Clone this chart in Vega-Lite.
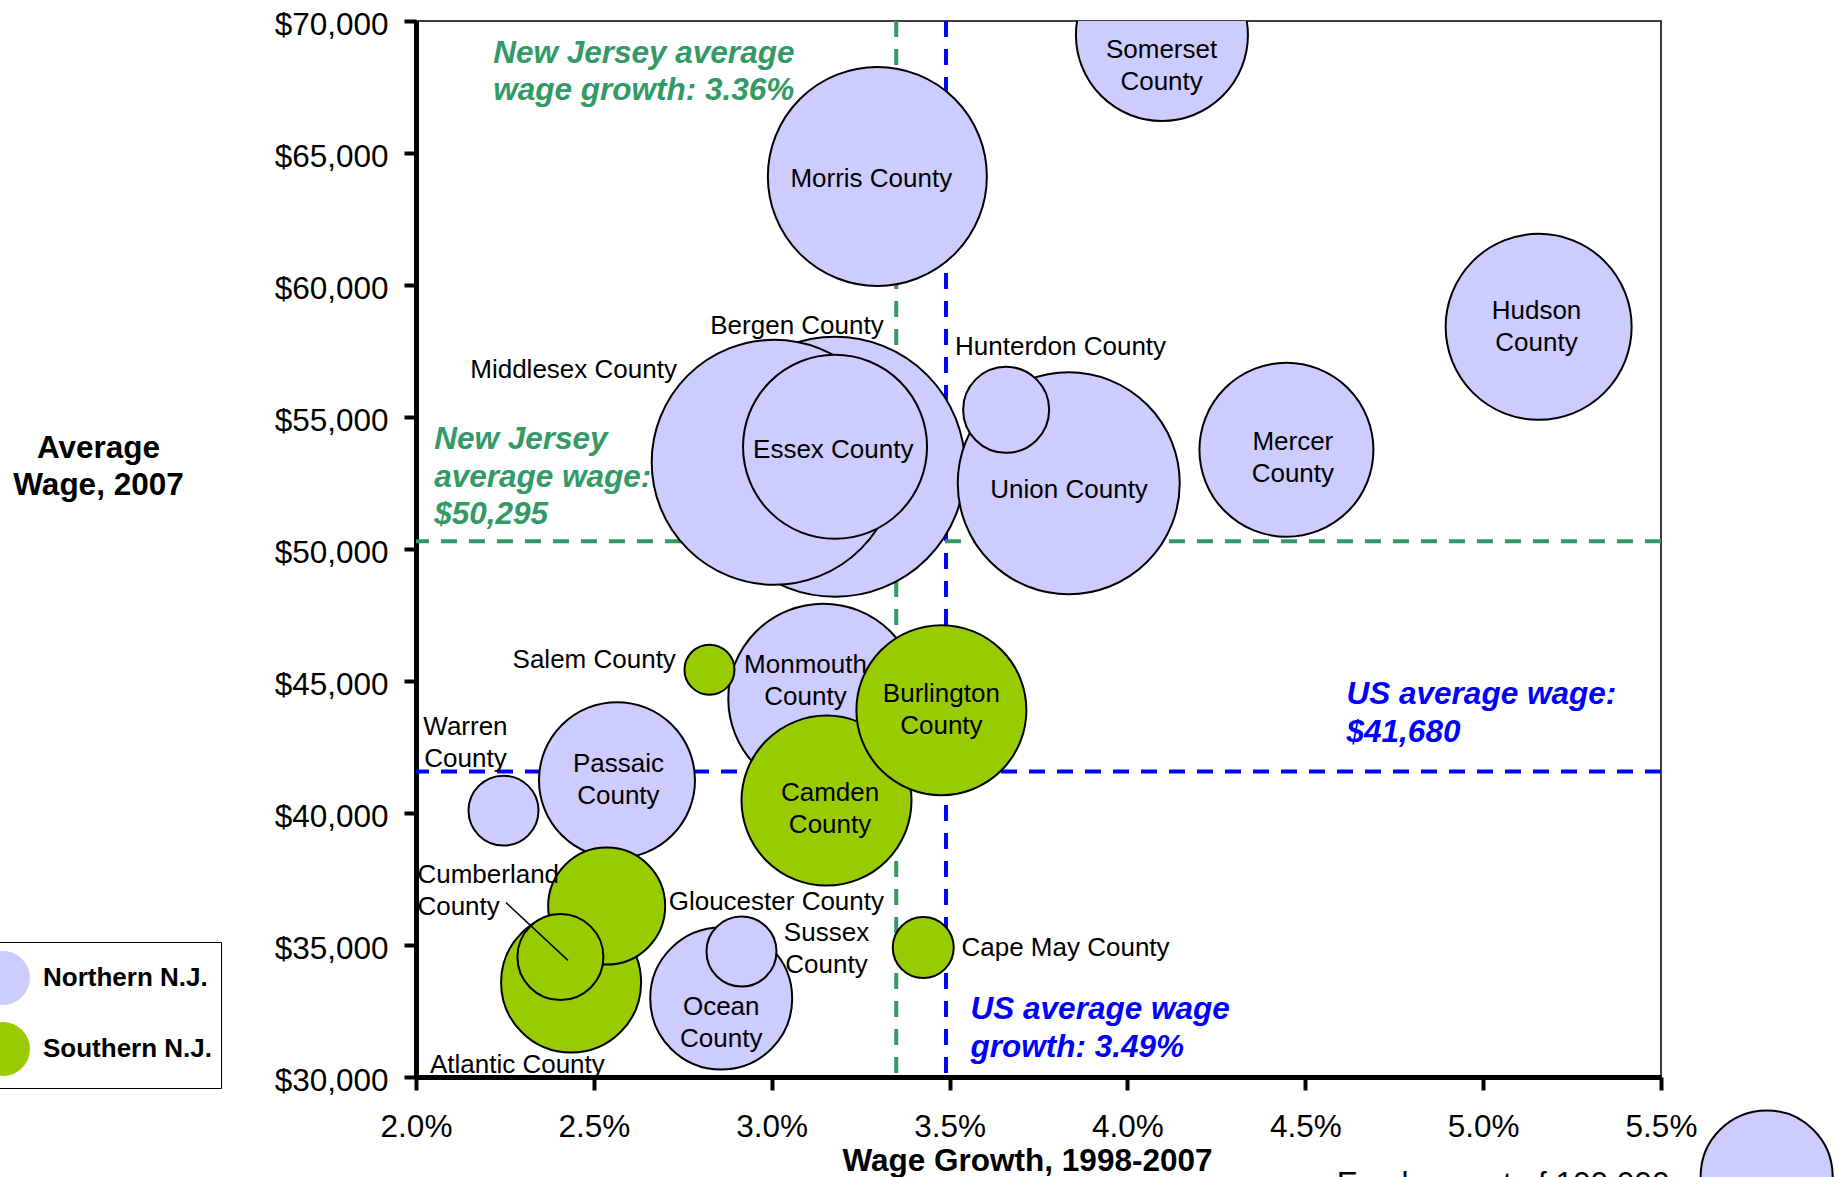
{
  "$schema": "https://vega.github.io/schema/vega-lite/v6.json",
  "width": 1245,
  "height": 1056,
  "autosize": {"type": "none"},
  "padding": {"left": 416, "top": 21, "right": 174, "bottom": 100},
  "background": "white",
  "config": {
    "font": "Liberation Sans",
    "view": {"stroke": "black", "strokeWidth": 1.5},
    "axis": {
      "grid": false,
      "domainColor": "black",
      "domainWidth": 5,
      "tickColor": "black",
      "tickWidth": 4,
      "labelColor": "black",
      "labelFont": "Liberation Sans",
      "labelFontSize": 31.5,
      "titleFont": "Liberation Sans",
      "titleFontSize": 31.5,
      "titleFontWeight": "bold",
      "titleColor": "black",
      "zindex": 1,
      "labelFlush": false,
      "labelOverlap": false
    }
  },
  "datasets": {
    "refs": [
      {"series": "New Jersey", "growth": 3.35, "wage": 50295},
      {"series": "US", "growth": 3.49, "wage": 41575}
    ],
    "counties": [
      {"county": "Bergen County", "region": "Northern N.J.", "growth": 3.178, "wage": 53114, "employment": 388000, "label": "Bergen County", "labelGrowth": 3.071, "labelWage": 58127},
      {"county": "Middlesex County", "region": "Northern N.J.", "growth": 3.007, "wage": 53285, "employment": 344500, "label": "Middlesex County", "labelGrowth": 2.443, "labelWage": 56491},
      {"county": "Essex County", "region": "Northern N.J.", "growth": 3.178, "wage": 53871, "employment": 194300, "label": "Essex County", "labelGrowth": 3.173, "labelWage": 53432},
      {"county": "Union County", "region": "Northern N.J.", "growth": 3.835, "wage": 52489, "employment": 282850, "label": "Union County", "labelGrowth": 3.836, "labelWage": 51929},
      {"county": "Hunterdon County", "region": "Northern N.J.", "growth": 3.659, "wage": 55272, "employment": 42450, "label": "Hunterdon County", "labelGrowth": 3.812, "labelWage": 57355},
      {"county": "Morris County", "region": "Northern N.J.", "growth": 3.297, "wage": 64113, "employment": 275250, "label": "Morris County", "labelGrowth": 3.28, "labelWage": 63704},
      {"county": "Somerset County", "region": "Northern N.J.", "growth": 4.097, "wage": 69470, "employment": 169790, "label": "Somerset\nCounty", "labelGrowth": 4.096, "labelWage": 68603},
      {"county": "Mercer County", "region": "Northern N.J.", "growth": 4.447, "wage": 53758, "employment": 173760, "label": "Mercer\nCounty", "labelGrowth": 4.465, "labelWage": 53765},
      {"county": "Hudson County", "region": "Northern N.J.", "growth": 5.156, "wage": 58415, "employment": 198550, "label": "Hudson\nCounty", "labelGrowth": 5.15, "labelWage": 58725},
      {"county": "Monmouth County", "region": "Northern N.J.", "growth": 3.145, "wage": 44330, "employment": 207190, "label": "Monmouth\nCounty", "labelGrowth": 3.095, "labelWage": 45315},
      {"county": "Warren County", "region": "Northern N.J.", "growth": 2.246, "wage": 40090, "employment": 28120, "label": "Warren\nCounty", "labelGrowth": 2.139, "labelWage": 42967},
      {"county": "Passaic County", "region": "Northern N.J.", "growth": 2.565, "wage": 41245, "employment": 139670, "label": "Passaic\nCounty", "labelGrowth": 2.569, "labelWage": 41559},
      {"county": "Ocean County", "region": "Northern N.J.", "growth": 2.858, "wage": 32972, "employment": 115730, "label": "Ocean\nCounty", "labelGrowth": 2.858, "labelWage": 32366},
      {"county": "Sussex County", "region": "Northern N.J.", "growth": 2.915, "wage": 34752, "employment": 28120, "label": "Sussex\nCounty", "labelGrowth": 3.154, "labelWage": 35149},
      {"county": "Camden County", "region": "Southern N.J.", "growth": 3.154, "wage": 40469, "employment": 165860, "label": "Camden\nCounty", "labelGrowth": 3.164, "labelWage": 40442},
      {"county": "Burlington County", "region": "Southern N.J.", "growth": 3.477, "wage": 43895, "employment": 165860, "label": "Burlington\nCounty", "labelGrowth": 3.477, "labelWage": 44205},
      {"county": "Salem County", "region": "Southern N.J.", "growth": 2.825, "wage": 45428, "employment": 14350, "label": "Salem County", "labelGrowth": 2.501, "labelWage": 45474},
      {"county": "Atlantic County", "region": "Southern N.J.", "growth": 2.436, "wage": 33578, "employment": 112490, "label": "Atlantic County", "labelGrowth": 2.285, "labelWage": 30155},
      {"county": "Gloucester County", "region": "Southern N.J.", "growth": 2.536, "wage": 36474, "employment": 78560, "label": "Gloucester County", "labelGrowth": 3.013, "labelWage": 36315},
      {"county": "Cumberland County", "region": "Southern N.J.", "growth": 2.406, "wage": 34543, "employment": 42450, "label": "Cumberland\nCounty", "labelGrowth": 2.004, "labelWage": 37364},
      {"county": "Cape May County", "region": "Southern N.J.", "growth": 3.426, "wage": 34903, "employment": 21360, "label": "Cape May County", "labelGrowth": 3.826, "labelWage": 34581}
    ],
    "leaders": [
      {"county": "Cumberland County", "fromGrowth": 2.2526, "fromWage": 36611, "toGrowth": 2.4272, "toWage": 34418}
    ],
    "notes": [
      {"series": "New Jersey", "note": "New Jersey average\nwage growth: 3.36%", "noteGrowth": 2.217, "noteWage": 68410},
      {"series": "New Jersey", "note": "New Jersey\naverage wage:\n$50,295", "noteGrowth": 2.051, "noteWage": 53784},
      {"series": "US", "note": "US average wage:\n$41,680", "noteGrowth": 4.616, "noteWage": 44111},
      {"series": "US", "note": "US average wage\ngrowth: 3.49%", "noteGrowth": 3.559, "noteWage": 32181}
    ],
    "sizeKey": [
      {"note": "Employment of 100,000", "growth": 5.797, "wage": 26233, "employment": 100000, "textGrowth": 5.056, "textWage": 25566}
    ]
  },
  "layer": [
    {
      "data": {"name": "refs"},
      "mark": {"type": "rule", "strokeWidth": 4, "strokeDash": [16, 12]},
      "encoding": {
        "x": {
          "field": "growth", "type": "quantitative",
          "scale": {"domain": [2, 5.5], "nice": false, "zero": false},
          "axis": {
            "title": "Wage Growth, 1998-2007",
            "values": [2, 2.5, 3, 3.5, 4, 4.5, 5, 5.5],
            "labelExpr": "format(datum.value, '.1f') + '%'",
            "tickSize": 13,
            "labelPadding": 21,
            "titleX": 611,
            "titleY": 93,
            "titleAlign": "center",
            "titleBaseline": "alphabetic"
          }
        },
        "stroke": {"field": "series", "type": "nominal", "scale": {"domain": ["New Jersey", "US"], "range": ["#339966", "#0000FF"]}, "legend": null}
      }
    },
    {
      "data": {"name": "refs"},
      "mark": {"type": "rule", "strokeWidth": 4, "strokeDash": [16, 12]},
      "encoding": {
        "y": {
          "field": "wage", "type": "quantitative",
          "scale": {"domain": [30000, 70000], "nice": false, "zero": false},
          "axis": {
            "title": ["Average", "Wage, 2007"],
            "values": [30000, 35000, 40000, 45000, 50000, 55000, 60000, 65000, 70000],
            "format": "$,.0f",
            "tickSize": 12,
            "labelPadding": 16,
            "labelOffset": 4,
            "titleAngle": 0,
            "titleX": -318,
            "titleY": 436,
            "titleAlign": "center",
            "titleBaseline": "alphabetic",
            "titleLineHeight": 37
          }
        },
        "stroke": {"field": "series", "type": "nominal", "scale": {"domain": ["New Jersey", "US"], "range": ["#339966", "#0000FF"]}, "legend": null}
      }
    },
    {
      "data": {"name": "counties"},
      "mark": {"type": "circle", "clip": true, "stroke": "black", "strokeWidth": 2, "opacity": 1, "fillOpacity": 1},
      "encoding": {
        "x": {"field": "growth", "type": "quantitative", "scale": {"domain": [2, 5.5], "nice": false, "zero": false}},
        "y": {"field": "wage", "type": "quantitative", "scale": {"domain": [30000, 70000], "nice": false, "zero": false}},
        "size": {"field": "employment", "type": "quantitative", "scale": {"type": "linear", "domain": [0, 500000], "range": [0, 87120]}, "legend": null},
        "fill": {
          "field": "region", "type": "nominal",
          "scale": {"domain": ["Northern N.J.", "Southern N.J."], "range": ["#CCCCFF", "#99CC00"]},
          "legend": {
            "title": null,
            "orient": "none",
            "legendX": -449,
            "legendY": 921,
            "symbolType": "circle",
            "symbolSize": 2916,
            "symbolStrokeColor": "black",
            "symbolStrokeWidth": 2,
            "symbolOpacity": 1,
            "symbolFillColor": "#CCCCFF",
            "labelFont": "Liberation Sans",
            "labelFontWeight": "bold",
            "labelFontSize": 26,
            "labelColor": "black",
            "labelOffset": 12,
            "labelLimit": 400,
            "padding": 8,
            "rowPadding": 9,
            "strokeColor": "black",
            "fillColor": "white",
            "encode": {
              "symbols": {"update": {"fill": {"signal": "datum.value === 'Southern N.J.' ? '#92D050' : '#CCCCFF'"}}}
            }
          }
        }
      }
    },
    {
      "data": {"name": "sizeKey"},
      "mark": {"type": "circle", "clip": false, "fill": "#CCCCFF", "stroke": "black", "strokeWidth": 2, "opacity": 1},
      "encoding": {
        "x": {"field": "growth", "type": "quantitative", "scale": {"domain": [2, 5.5], "nice": false, "zero": false}},
        "y": {"field": "wage", "type": "quantitative", "scale": {"domain": [30000, 70000], "nice": false, "zero": false}},
        "size": {"field": "employment", "type": "quantitative", "scale": {"type": "linear", "domain": [0, 500000], "range": [0, 87120]}, "legend": null}
      }
    },
    {
      "data": {"name": "sizeKey"},
      "mark": {"type": "text", "align": "center", "baseline": "alphabetic", "fontSize": 31.5, "font": "Liberation Sans", "color": "black"},
      "encoding": {
        "x": {"field": "textGrowth", "type": "quantitative", "scale": {"domain": [2, 5.5], "nice": false, "zero": false}},
        "y": {"field": "textWage", "type": "quantitative", "scale": {"domain": [30000, 70000], "nice": false, "zero": false}},
        "text": {"field": "note"}
      }
    },
    {
      "data": {"name": "counties"},
      "transform": [{"filter": "datum.county !== 'Cumberland County'"}],
      "mark": {"type": "text", "align": "center", "baseline": "alphabetic", "fontSize": 26, "font": "Liberation Sans", "lineBreak": "\n", "lineHeight": 32, "color": "black"},
      "encoding": {
        "x": {"field": "labelGrowth", "type": "quantitative", "scale": {"domain": [2, 5.5], "nice": false, "zero": false}},
        "y": {"field": "labelWage", "type": "quantitative", "scale": {"domain": [30000, 70000], "nice": false, "zero": false}},
        "text": {"field": "label"}
      }
    },
    {
      "data": {"name": "counties"},
      "transform": [{"filter": "datum.county === 'Cumberland County'"}],
      "mark": {"type": "text", "align": "left", "baseline": "alphabetic", "fontSize": 26, "font": "Liberation Sans", "lineBreak": "\n", "lineHeight": 32, "color": "black"},
      "encoding": {
        "x": {"field": "labelGrowth", "type": "quantitative", "scale": {"domain": [2, 5.5], "nice": false, "zero": false}},
        "y": {"field": "labelWage", "type": "quantitative", "scale": {"domain": [30000, 70000], "nice": false, "zero": false}},
        "text": {"field": "label"}
      }
    },
    {
      "data": {"name": "leaders"},
      "mark": {"type": "rule", "color": "black", "strokeWidth": 1.5},
      "encoding": {
        "x": {"field": "fromGrowth", "type": "quantitative", "scale": {"domain": [2, 5.5], "nice": false, "zero": false}},
        "y": {"field": "fromWage", "type": "quantitative", "scale": {"domain": [30000, 70000], "nice": false, "zero": false}},
        "x2": {"field": "toGrowth"},
        "y2": {"field": "toWage"}
      }
    },
    {
      "data": {"name": "notes"},
      "mark": {"type": "text", "align": "left", "baseline": "alphabetic", "fontSize": 31.5, "font": "Liberation Sans", "fontWeight": "bold", "fontStyle": "italic", "lineBreak": "\n", "lineHeight": 37.5},
      "encoding": {
        "x": {"field": "noteGrowth", "type": "quantitative", "scale": {"domain": [2, 5.5], "nice": false, "zero": false}},
        "y": {"field": "noteWage", "type": "quantitative", "scale": {"domain": [30000, 70000], "nice": false, "zero": false}},
        "text": {"field": "note"},
        "color": {"field": "series", "type": "nominal", "scale": {"domain": ["New Jersey", "US"], "range": ["#339966", "#0000FF"]}, "legend": null}
      }
    }
  ]
}
